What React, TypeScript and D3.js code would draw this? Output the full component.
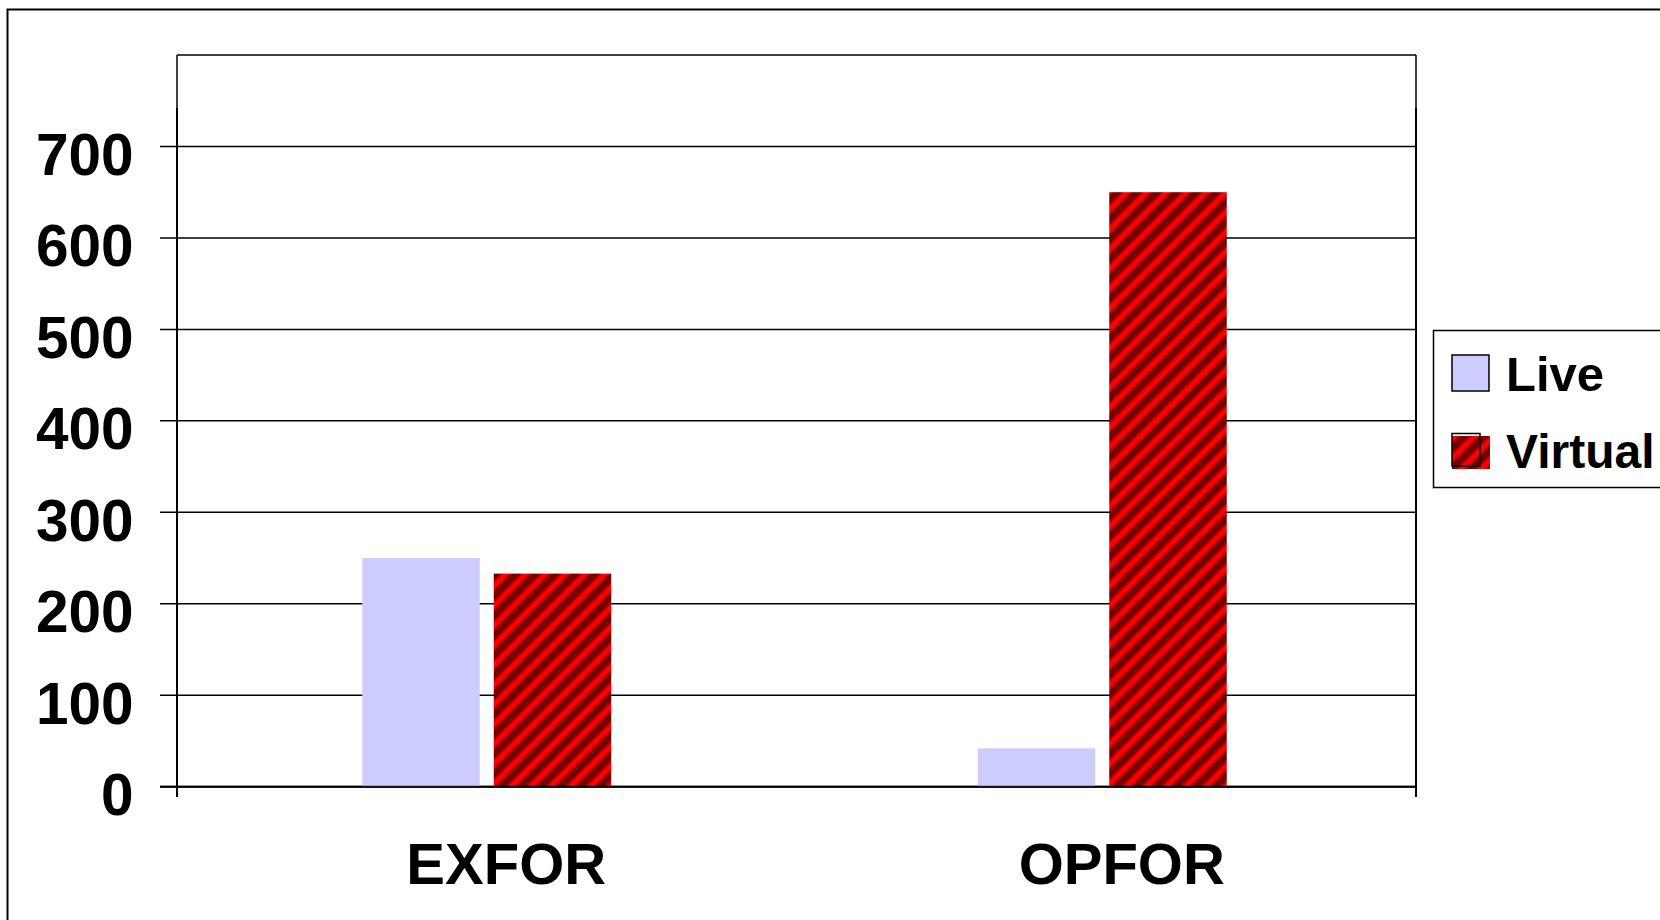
import React from "react";
import * as d3 from "d3";

const categories = ["EXFOR", "OPFOR"];
const seriesNames = ["Live", "Virtual"];
const liveValues = [250, 42];
const virtualValues = [233, 650];
const yTicks = [0, 100, 200, 300, 400, 500, 600, 700];

const W = 1660;
const H = 920;
const plot = { left: 177, right: 1416, top: 55, bottom: 786.7 };
const FONT = "'Liberation Sans', Arial, Helvetica, sans-serif";
const LIVE_COLOR = "#CCCCFF";

export default function App() {
  const y = d3.scaleLinear().domain([0, 800]).range([plot.bottom, plot.top]);
  const x0 = d3.scaleBand().domain(categories).range([plot.left + 2, plot.right - 6]).padding(0);
  const bw = x0.bandwidth();
  const groupW = 249;
  const x1 = d3
    .scaleBand()
    .domain(seriesNames)
    .range([(bw - groupW) / 2, (bw + groupW) / 2])
    .paddingInner(0.1065)
    .paddingOuter(0);

  const seriesValues: Record<string, number[]> = { Live: liveValues, Virtual: virtualValues };
  const fills: Record<string, string> = { Live: LIVE_COLOR, Virtual: "url(#hatch)" };

  return (
    <svg
      width={W}
      height={H}
      style={{ position: "absolute", left: 0, top: 0, background: "#fff" }}
      fontFamily={FONT}
    >
      <defs>
        <pattern
          id="hatch"
          patternUnits="userSpaceOnUse"
          width={14}
          height={14}
          patternTransform="rotate(45)"
        >
          <rect x={0} y={0} width={14} height={14} fill="#740000" />
          <rect x={3.2} y={0} width={1.4} height={14} fill="#c00000" />
          <rect x={4.6} y={0} width={5} height={14} fill="#ff0000" />
          <rect x={9.6} y={0} width={1.4} height={14} fill="#c00000" />
        </pattern>
      </defs>
      <rect x={0} y={0} width={W} height={H} fill="#fff" />
      {/* outer chart border */}
      <rect x={7.5} y={9.5} width={1800} height={1000} fill="none" stroke="#000" strokeWidth={2} />

      {/* gridlines + left ticks */}
      {yTicks.map((t) => (
        <line
          key={"g" + t}
          x1={160}
          x2={plot.right}
          y1={y(t)}
          y2={y(t)}
          stroke="#000"
          strokeWidth={t === 0 ? 2 : 1.5}
        />
      ))}
      {/* plot frame */}
      <line x1={plot.left} x2={plot.right} y1={plot.top} y2={plot.top} stroke="#000" strokeWidth={1.5} />
      <line x1={plot.left} x2={plot.left} y1={plot.top} y2={797} stroke="#000" strokeWidth={1.5} />
      <line x1={plot.left} x2={plot.left} y1={108} y2={797} stroke="#000" strokeWidth={2} />
      <line x1={plot.right} x2={plot.right} y1={plot.top} y2={797} stroke="#000" strokeWidth={1.5} />
      <line x1={plot.right} x2={plot.right} y1={108} y2={797} stroke="#000" strokeWidth={2} />

      {/* bars */}
      {categories.map((c, i) => (
        <g key={c} transform={`translate(${x0(c)},0)`}>
          {seriesNames.map((s) => (
            <rect
              key={s}
              x={x1(s)}
              y={y(seriesValues[s][i])}
              width={x1.bandwidth()}
              height={y(0) - y(seriesValues[s][i])}
              fill={fills[s]}
            />
          ))}
        </g>
      ))}
      {/* redraw zero line over bars */}
      <line x1={160} x2={plot.right} y1={y(0)} y2={y(0)} stroke="#000" strokeWidth={2} opacity={0.85} />

      {/* y tick labels */}
      {yTicks.map((t) => (
        <text
          key={"l" + t}
          x={133.5}
          y={y(t) + 28.5}
          textAnchor="end"
          fontWeight="bold"
          fontSize={58.5}
          fill="#000"
        >
          {t}
        </text>
      ))}

      {/* category labels */}
      {categories.map((c) => (
        <text
          key={"c" + c}
          x={(x0(c) as number) + bw / 2 + 19.5}
          y={884}
          textAnchor="middle"
          fontWeight="bold"
          fontSize={58}
          fill="#000"
        >
          {c}
        </text>
      ))}

      {/* legend */}
      <rect x={1433.5} y={330.5} width={400} height={157} fill="#fff" stroke="#000" strokeWidth={1.5} />
      <rect x={1452} y={355} width={37} height={36} fill={LIVE_COLOR} stroke="#000" strokeWidth={1.5} />
      <rect x={1452} y={436} width={38} height={33} fill="url(#hatch)" />
      <rect x={1452} y={433.5} width={28} height={32.5} fill="none" stroke="#000" strokeWidth={1.5} />
      <text x={1506} y={390.5} fontWeight="bold" fontSize={49} fill="#000">
        {seriesNames[0]}
      </text>
      <text x={1506} y={468} fontWeight="bold" fontSize={48} fill="#000">
        {seriesNames[1]}
      </text>
    </svg>
  );
}
